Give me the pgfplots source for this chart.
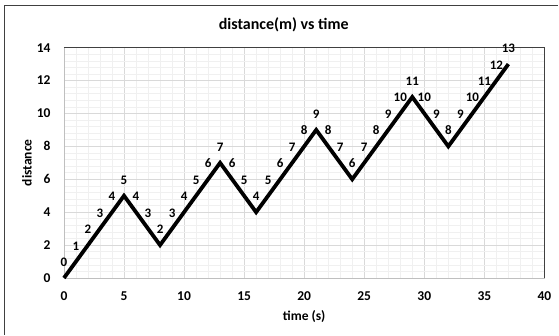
\documentclass[border=0pt]{standalone}
\usepackage{pgfplots}
\pgfplotsset{compat=1.18}
\usepackage{fontspec}
\setmainfont{Carlito}
\begin{document}
\begin{tikzpicture}
\begin{axis}[
  width=481pt, height=230.6pt, scale only axis,
  xmin=0, xmax=40, ymin=0, ymax=14,
  xtick={0,5,...,40}, ytick={0,2,...,14},
  minor x tick num=4, minor y tick num=4,
  grid=both,
  major grid style={color=black!15, line width=0.8pt},
  minor grid style={color=black!6, line width=0.6pt},
  tick style={draw=none},
  axis line style={draw=black!25, line width=0.8pt},
  ticklabel style={font=\bfseries\fontsize{13.5}{15}\selectfont},
  /pgf/number format/assume math mode=true,
  xticklabel style={anchor=center, yshift=-18.4pt},
  yticklabel style={anchor=east, xshift=-10pt},
  xlabel={time (s)}, ylabel={distance},
  label style={font=\bfseries\fontsize{13.5}{15}\selectfont},
  xlabel style={at={(axis description cs:0.5,-0.169)}, anchor=center},
  ylabel style={at={(axis description cs:-0.077,0.5)}, anchor=center},
  title={distance(m) vs time},
  every axis title shift=0pt,
  title style={at={(axis description cs:0.4574,1.1006)}, anchor=center, font=\bfseries\fontsize{16}{18}\selectfont},
  clip=false,
]
\path (axis description cs:-0.1331,-0.2459) rectangle (axis description cs:1.0291,1.2069);
\draw[color=black!75, line width=1.2pt] (axis description cs:-0.1241,-0.2459) -- (axis description cs:-0.1241,1.1839) -- (axis description cs:1.0291,1.1839);
\addplot[black, line width=3.8pt, line join=miter,
  nodes near coords,
  every node near coord/.style={anchor=south, yshift=6.3pt, black, font=\bfseries\fontsize{13}{15}\selectfont}]
coordinates {
(0,0) (1,1) (2,2) (3,3) (4,4) (5,5) (6,4) (7,3) (8,2) (9,3)
(10,4) (11,5) (12,6) (13,7) (14,6) (15,5) (16,4) (17,5) (18,6) (19,7)
(20,8) (21,9) (22,8) (23,7) (24,6) (25,7) (26,8) (27,9) (28,10) (29,11)
(30,10) (31,9) (32,8) (33,9) (34,10) (35,11) (36,12) (37,13)
};
\draw[color=black!75, line width=0.9pt] (rel axis cs:0,1) -- (rel axis cs:1,1) -- (rel axis cs:1,0);
\end{axis}
\end{tikzpicture}
\end{document}
